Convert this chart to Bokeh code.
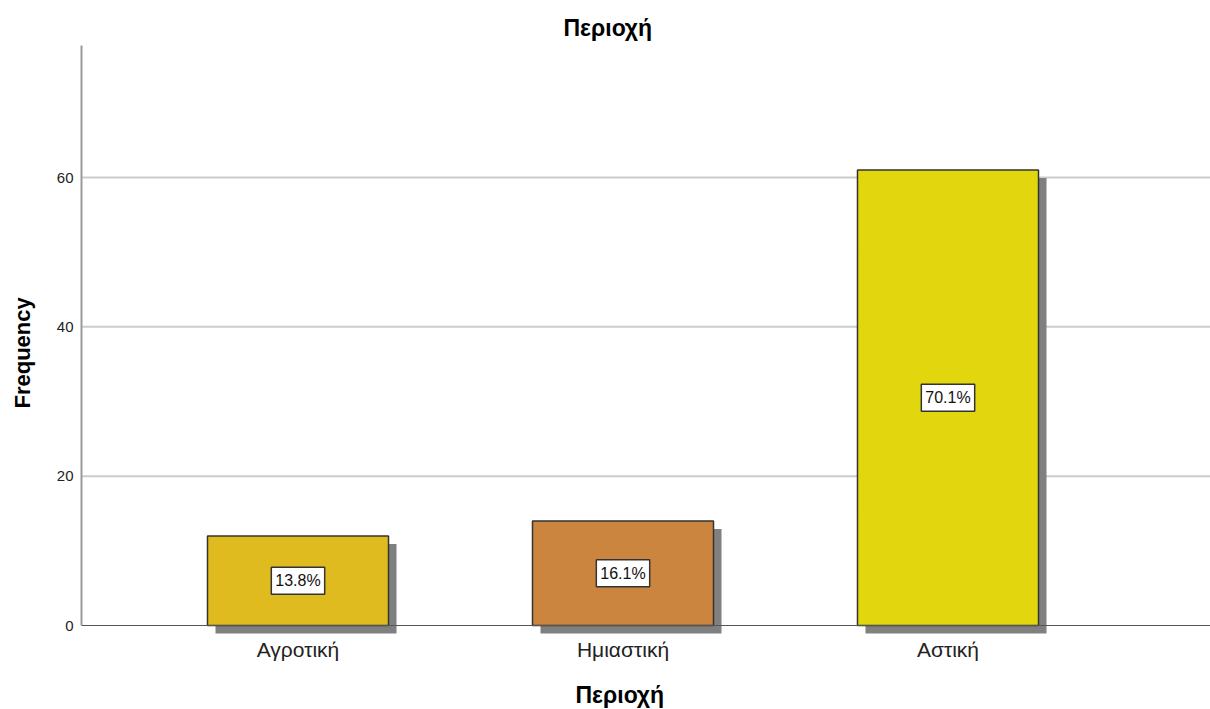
from bokeh.plotting import figure
from bokeh.models import ColumnDataSource, Span, LinearAxis, FixedTicker, Title
from bokeh.core.properties import value
from bokeh.embed import file_html
from bokeh.resources import INLINE

# Frequency of respondents per area type
categories = ["Αγροτική", "Ημιαστική", "Αστική"]
counts = [12, 14, 61]
bar_colors = ["#DFBB1F", "#CC853F", "#E2D70E"]
y_ticks = [0, 20, 40, 60]

total = sum(counts)
pct_labels = [f"{100 * c / total:.1f}%" for c in counts]

FONT = "Liberation Sans"
W, H = 1210, 709
FRAME_L, FRAME_R, FRAME_T, FRAME_B = 81, 1210, 45, 635
X_PX_PER_UNIT = 325.0
Y0_PX, Y_PX_PER_UNIT = 625.0, 448.0 / 60.0
X_START = -(297.5 - FRAME_L) / X_PX_PER_UNIT
X_END = X_START + (FRAME_R - FRAME_L) / X_PX_PER_UNIT
Y_END = (Y0_PX - FRAME_T) / Y_PX_PER_UNIT
Y_START = (Y0_PX - FRAME_B) / Y_PX_PER_UNIT

xs = list(range(len(categories)))
src = ColumnDataSource(dict(
    x=xs,
    top=counts,
    color=bar_colors,
    mid=[c / 2 for c in counts],
    label=pct_labels,
))

shadow_dx = 8 / X_PX_PER_UNIT
shadow_dy = 8 / Y_PX_PER_UNIT
shadow_src = ColumnDataSource(dict(
    x=[x + shadow_dx for x in xs],
    top=[c - shadow_dy for c in counts],
    bottom=[-shadow_dy] * len(counts),
))

p = figure(
    width=W, height=H,
    x_range=(X_START, X_END), y_range=(Y_START, Y_END),
    output_backend="svg", toolbar_location=None,
    min_border_left=FRAME_L, min_border_right=0,
    min_border_top=FRAME_T, min_border_bottom=H - FRAME_B,
    x_axis_location=None, y_axis_location=None,
)
p.outline_line_color = None
p.background_fill_color = "white"
p.border_fill_color = "white"

p.title.text = "Περιοχή"
p.title.text_font = FONT
p.title.text_font_size = "23px"
p.title.text_font_style = "bold"
p.title.text_color = "black"
p.title.align = "left"
p.title.offset = 482

# y axis limited to the positive range; its blank label only adds spacing
yaxis = LinearAxis(bounds=(0, Y_END), ticker=FixedTicker(ticks=y_ticks))
yaxis.axis_label = " "
yaxis.axis_label_text_font_size = "8px"
yaxis.axis_label_standoff = 2
yaxis.axis_line_color = "#9a9a9a"
yaxis.axis_line_width = 2
yaxis.major_tick_line_color = None
yaxis.minor_tick_line_color = None
yaxis.major_tick_out = 0
yaxis.major_label_standoff = 8
yaxis.major_label_text_font = FONT
yaxis.major_label_text_font_size = "15px"
yaxis.major_label_text_color = "#222222"
p.add_layout(yaxis, "left")

# category axis below the plot; its blank label only adds spacing
xaxis = LinearAxis(ticker=FixedTicker(ticks=xs),
                   major_label_overrides={i: c for i, c in zip(xs, categories)})
xaxis.axis_label = " "
xaxis.axis_label_text_font_size = "8px"
xaxis.axis_label_standoff = 3
xaxis.axis_line_color = None
xaxis.major_tick_line_color = None
xaxis.minor_tick_line_color = None
xaxis.major_tick_out = 0
xaxis.major_label_standoff = 2
xaxis.major_label_text_font = FONT
xaxis.major_label_text_font_size = "21px"
xaxis.major_label_text_color = "#222222"
p.add_layout(xaxis, "below")

# axis titles
p.add_layout(Title(text="Περιοχή", text_font=FONT, text_font_size="23px",
                   text_font_style="bold", text_color="black",
                   align="left", offset=494, standoff=2), "below")
p.add_layout(Title(text="Frequency", text_font=FONT, text_font_size="22px",
                   text_font_style="bold", text_color="black",
                   align="left", offset=227), "left")

p.xgrid.visible = False
p.ygrid.visible = False

# horizontal grid lines
for t in y_ticks[1:]:
    p.add_layout(Span(location=t, dimension="width", line_color="#cccccc", line_width=2, level="underlay"))

# drop shadows
p.vbar(x="x", top="top", bottom="bottom", width=0.557, source=shadow_src,
       fill_color="#808080", line_color=None)

# baseline
p.add_layout(Span(location=0, dimension="width", line_color="#555555", line_width=1.2))

# bars
p.vbar(x="x", top="top", bottom=0, width=0.557, source=src,
       fill_color="color", line_color="#333333", line_width=1.5)

# percentage labels
p.text(x="x", y="mid", text="label", source=src,
       text_font=value(FONT), text_font_size="16px", text_color="#111111",
       text_align="center", text_baseline="middle",
       background_fill_color="white", border_line_color="#333333",
       border_line_width=1.5, padding=(4, 5))

open("out.html", "w").write(file_html(p, INLINE))
